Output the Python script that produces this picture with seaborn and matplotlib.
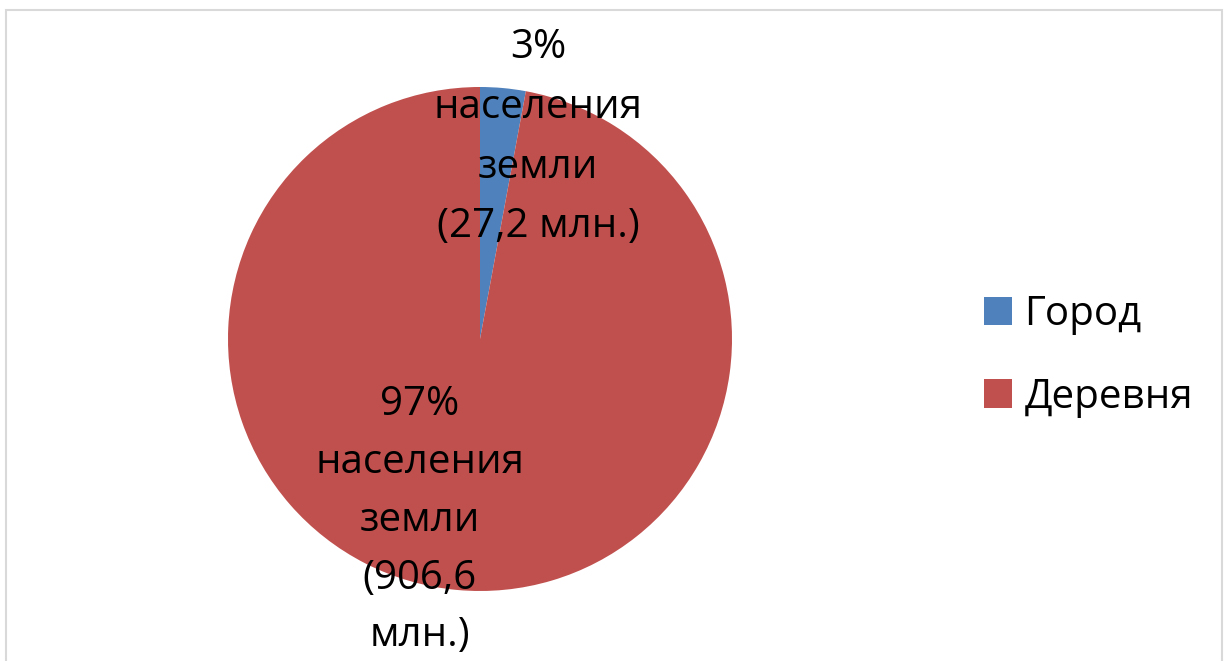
import matplotlib.pyplot as plt
import seaborn as sns
from matplotlib.patches import Rectangle

# data
categories = ['Город', 'Деревня']
values = [27.2, 906.6]
shares = [3, 97]
colors = ['#4F81BD', '#C0504D']

sns.set_theme(style='white')
plt.rcParams['font.family'] = ['Open Sans', 'DejaVu Sans']
plt.rcParams['text.color'] = 'black'

fig = plt.figure(figsize=(12.29, 6.61), dpi=100)
ax = fig.add_axes([228 / 1229, 70 / 661, 504 / 1229, 504 / 661])

wedges, _ = ax.pie(values, colors=colors, startangle=90, counterclock=False,
                   radius=1, wedgeprops=dict(linewidth=0))
ax.set_xlim(-1, 1)
ax.set_ylim(-1, 1)
ax.set_aspect('equal')
ax.axis('off')

fmt = lambda v: str(v).replace('.', ',')
top_lbl = f'{shares[0]}%\nнаселения\nземли\n({fmt(values[0])} млн.)'
bot_lbl = f'{shares[1]}%\nнаселения\nземли\n({fmt(values[1])}\nмлн.)'
ax.text(0.23, 0.80, top_lbl, ha='center', va='center', fontsize=29,
        linespacing=1.63, color='black')
ax.text(-0.24, -0.72, bot_lbl, ha='center', va='center', fontsize=29,
        linespacing=1.57, color='black')

leg = ax.legend(wedges, categories, loc='center left',
                bbox_to_anchor=(948 / 1229, 305 / 661),
                bbox_transform=fig.transFigure, frameon=False, fontsize=29,
                handlelength=0.7, handleheight=0.7, handletextpad=0.3,
                labelspacing=1.05)
for t in leg.get_texts():
    t.set_color('black')

fig.patches.append(Rectangle((6 / 1229, -0.1), 1216 / 1229, 1.1 - 10 / 661,
                             transform=fig.transFigure, fill=False,
                             edgecolor='#D9D9D9', linewidth=1.5))

fig.savefig('out.png', dpi=100)
